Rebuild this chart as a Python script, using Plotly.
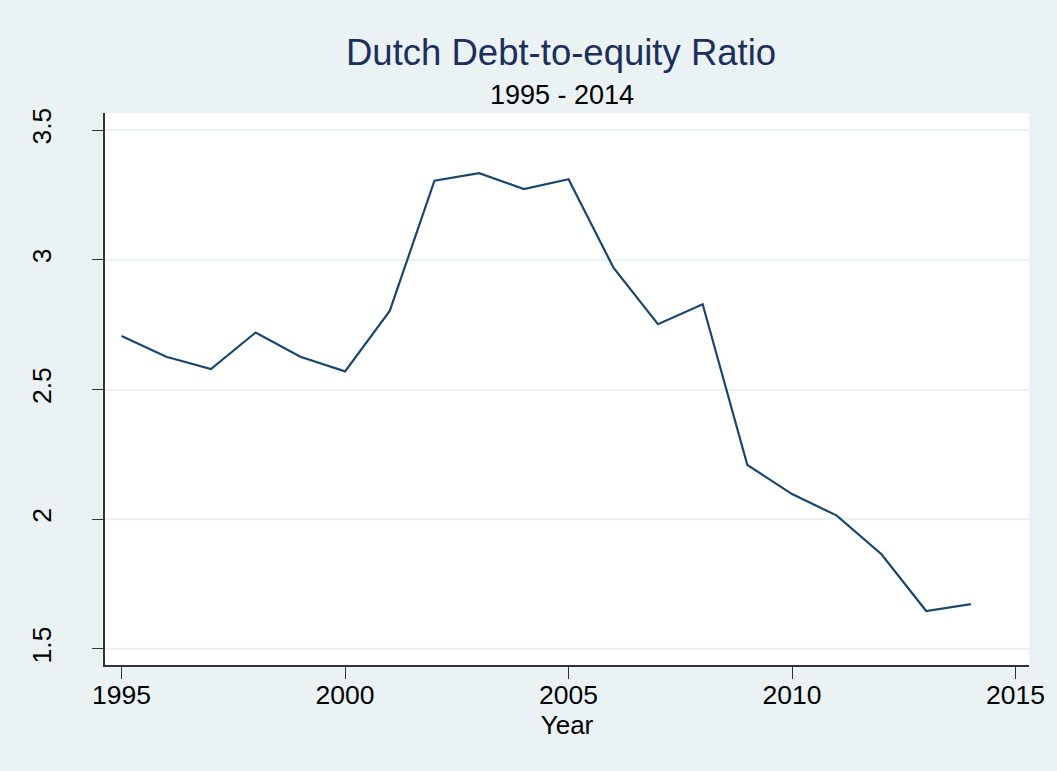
import plotly.graph_objects as go

years = list(range(1995, 2015))
ratio = [2.706, 2.626, 2.579, 2.720, 2.626, 2.570, 2.803, 3.305, 3.334, 3.273,
         3.311, 2.971, 2.752, 2.829, 2.209, 2.097, 2.014, 1.865, 1.646, 1.673]
x_ticks = [1995, 2000, 2005, 2010, 2015]
y_ticks = [1.5, 2, 2.5, 3, 3.5]
y_tick_text = ["1.5", "2", "2.5", "3", "3.5"]

FONT = "Liberation Sans, Arial, sans-serif"
BG = "#EAF2F3"

fig = go.Figure()
fig.add_trace(go.Scatter(x=years, y=ratio, mode="lines",
                         line=dict(color="#1a476f", width=2.2), showlegend=False))

fig.update_layout(
    width=1057, height=771,
    paper_bgcolor=BG, plot_bgcolor="white",
    margin=dict(l=105, r=28, t=113, b=106),
    font=dict(family=FONT, size=26, color="black"),
    xaxis=dict(range=[1994.63, 2015.30], tickvals=x_ticks, ticks="outside",
               ticklen=12, tickcolor="#333", tickwidth=1, showgrid=False,
               showline=True, linecolor="#333", linewidth=1.5, zeroline=False,
               tickfont=dict(size=26.5), ticklabelstandoff=-7,
               title=dict(text="Year", font=dict(size=26), standoff=0)),
    yaxis=dict(range=[1.438, 3.566], tickvals=y_ticks, ticktext=y_tick_text,
               ticks="outside", ticklen=11, tickcolor="#333", tickwidth=1,
               tickangle=-90, showgrid=True, gridcolor=BG, gridwidth=2,
               showline=True, linecolor="#333", linewidth=1.5, zeroline=False,
               tickfont=dict(size=26.5), ticklabelstandoff=31),
    annotations=[
        dict(text="Dutch Debt-to-equity Ratio", xref="paper", yref="paper",
             x=0.493, y=1.0, yshift=61, showarrow=False, xanchor="center",
             yanchor="middle", font=dict(size=36.5, color="#1c2f5c")),
        dict(text="1995 - 2014", xref="paper", yref="paper",
             x=0.495, y=1.0, yshift=18, showarrow=False, xanchor="center",
             yanchor="middle", font=dict(size=27, color="black")),
    ],
)

fig.write_html("out.html", config={"displayModeBar": False},
               post_script="document.body.style.margin='0';document.body.style.background='#EAF2F3';")
